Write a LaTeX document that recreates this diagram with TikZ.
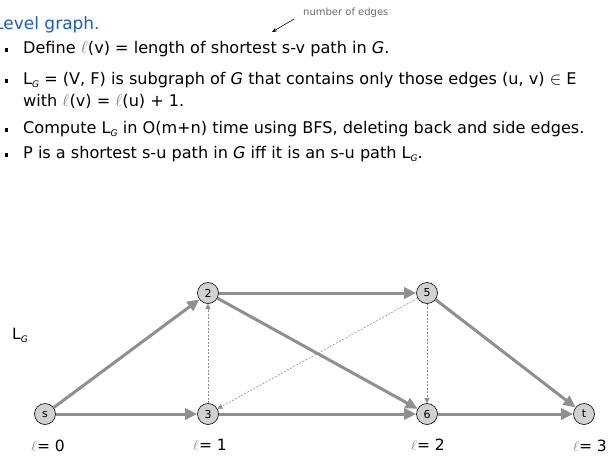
\documentclass[tikz,border=0pt]{standalone}
\usepackage{fontspec}
\setmainfont{DejaVu Sans}
\usetikzlibrary{arrows.meta}
\definecolor{edgegray}{gray}{0.56}
\definecolor{vtxfill}{gray}{0.82}
\definecolor{titleblue}{RGB}{30,90,200}
\definecolor{notegray}{gray}{0.42}
\newcommand{\sqbullet}{\makebox[0pt][r]{\raisebox{1.5pt}{\rule{3.5pt}{3.5pt}}\hspace{15pt}}}
\newcommand{\levelG}{L\raisebox{-3pt}{\fontsize{9}{9}\selectfont\itshape G}}
\newcommand{\ellv}{{\color{gray}$\ell$}}

\begin{document}
\begin{tikzpicture}[x=1pt,y=-1pt]
\useasboundingbox (0,0) rectangle (610,455);
\tikzset{
  vtx/.style={circle,draw=black,line width=0.6pt,fill=vtxfill,minimum size=21pt,inner sep=0pt,font=\fontsize{11}{11}\selectfont},
  lvl/.style={draw=edgegray,line width=3pt,-{Triangle[length=12pt,width=11pt]}},
  side/.style={draw=edgegray,line width=0.6pt,dash pattern=on 2pt off 1.5pt,-{Triangle[length=5pt,width=5pt]}},
  txt/.style={anchor=base west,inner sep=0pt,font=\fontsize{16.1}{18}\selectfont},
  lbl/.style={font=\fontsize{15.5}{18}\selectfont}
}
% text part
\node[txt,text=titleblue,font=\fontsize{17}{18}\selectfont] (title) at (-6,29) {Level graph.};
\node[txt] (b1) at (23,53) {\sqbullet Define \ellv(v) = length of shortest s-v path in \textit{G}.};
\node[txt] (b2) at (23,84) {\sqbullet \levelG{} = (V, F) is subgraph of \textit{G} that contains only those edges (u, v) $\in$ E};
\node[txt] (b2b) at (23,106) {with \ellv(v) = \ellv(u) + 1.};
\node[txt] (b3) at (23,133) {\sqbullet Compute \levelG{} in O(m+n) time using BFS, deleting back and side edges.};
\node[txt] (b4) at (23,158) {\sqbullet P is a shortest s-u path in \textit{G} iff it is an s-u path \levelG.};
\node[anchor=west,inner sep=0pt,text=notegray,font=\fontsize{10}{12}\selectfont] (note) at (303,13) {number of edges};
\coordinate (ptr) at (272,32);
\draw[line width=0.6pt,-{Stealth[length=5pt,width=4pt]}] ([xshift=-9pt,yshift=-1pt]note.south west) -- (ptr);

% graph
\node[lbl] (lgname) at (20,335) {\levelG};
\node[vtx] (s) at (45,414) {s};
\node[vtx] (n2) at (208,293) {2};
\node[vtx] (n3) at (208,414) {3};
\node[vtx] (n5) at (427,293) {5};
\node[vtx] (n6) at (427,414) {6};
\node[vtx] (t) at (584,414) {t};

\draw[side] (n3) -- (n2);
\draw[side] (n5) -- (n3);
\draw[side] (n5) -- (n6);

\draw[lvl] (s) -- (n2);
\draw[lvl] (s) -- (n3);
\draw[lvl] (n2) -- (n5);
\draw[lvl] (n2) -- (n6);
\draw[lvl] (n3) -- (n6);
\draw[lvl] (n5) -- (t);
\draw[lvl] (n6) -- (t);

\node[lbl] (l0) at (48,446) {\ellv= 0};
\node[lbl] (l1) at (210,445) {\ellv= 1};
\node[lbl] (l2) at (428,445) {\ellv= 2};
\node[lbl] (l3) at (590,446) {\ellv= 3};
\end{tikzpicture}
\end{document}
